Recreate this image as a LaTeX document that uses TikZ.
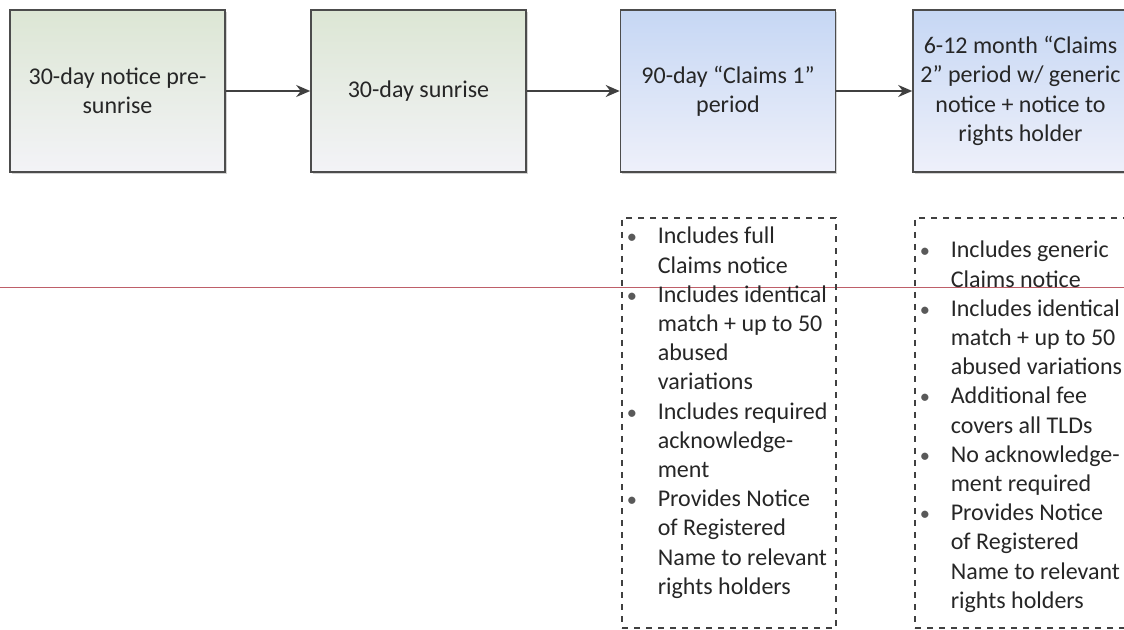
\documentclass[tikz,border=0pt]{standalone}
\usepackage{fontspec}
\usepackage{graphicx}
\setmainfont{Carlito}
\usetikzlibrary{arrows.meta, positioning, shadows}

\definecolor{sunrisetop}{RGB}{220,230,212}
\definecolor{sunrisebot}{RGB}{243,243,247}
\definecolor{claimstop}{RGB}{198,215,244}
\definecolor{claimsbot}{RGB}{238,240,250}
\definecolor{scanline}{RGB}{190,95,105}

\newcommand\dotmark{\textcolor{black!65}{\scalebox{0.85}{\textbullet}}}

\begin{document}
\begin{tikzpicture}[x=0.5pt, y=-0.5pt,
    phase/.style={draw=black!70, line width=0.8pt, minimum width=107.5pt,
        minimum height=81pt, inner sep=0pt, align=center, text=black!85,
        font=\fontsize{12}{14.6}\selectfont,
        drop shadow={shadow xshift=0.8pt, shadow yshift=-0.8pt, opacity=0.35}},
    greenphase/.style={phase, top color=sunrisetop, bottom color=sunrisebot},
    bluephase/.style={phase, top color=claimstop, bottom color=claimsbot},
    notes/.style={draw=black!75, dashed, line width=0.6pt, minimum width=107pt,
        minimum height=205pt, inner sep=0pt},
    notelist/.style={anchor=north west, inner sep=0pt, text=black!85,
        font=\fontsize{12}{14.6}\selectfont},
    flow/.style={-{Stealth[length=7pt, width=6pt]}, draw=black!75, line width=1pt}]

    \useasboundingbox (0,0) rectangle (1124,630);

    % scan line across the page
    \draw[scanline, line width=0.4pt] (0,287) -- (1124,287);

    % phases
    \node[greenphase] (pre) at (117.5,91) {30-day notice pre-\\sunrise};
    \node[greenphase] (sun) at (418.5,91) {30-day sunrise};
    \node[bluephase] (claimsA) at (728,91) {90-day “Claims 1”\\period};
    \node[bluephase] (claimsB) at (1020.5,91) {6-12 month “Claims\\2” period w/ generic\\notice + notice to\\rights holder};

    \draw[flow] (pre) -- (sun);
    \draw[flow] (sun) -- (claimsA);
    \draw[flow] (claimsA) -- (claimsB);

    % details
    \node[notes] (notesA) at (729,423) {};
    \node[notes] (notesB) at (1022,423) {};

    \node[notelist] (listA) at ([xshift=2.5pt, yshift=-2.8pt]notesA.north west) {%
        \begin{tabular}{@{}p{15.5pt}@{}l@{}}
        \dotmark & Includes full\\
                 & Claims notice\\
        \dotmark & Includes identical\\
                 & match + up to 50\\
                 & abused\\
                 & variations\\
        \dotmark & Includes required\\
                 & acknowledge-\\
                 & ment\\
        \dotmark & Provides Notice\\
                 & of Registered\\
                 & Name to relevant\\
                 & rights holders
        \end{tabular}};
    \node[notelist] (listB) at ([xshift=2.5pt, yshift=-9.8pt]notesB.north west) {%
        \begin{tabular}{@{}p{15.5pt}@{}l@{}}
        \dotmark & Includes generic\\
                 & Claims notice\\
        \dotmark & Includes identical\\
                 & match + up to 50\\
                 & abused variations\\
        \dotmark & Additional fee\\
                 & covers all TLDs\\
        \dotmark & No acknowledge-\\
                 & ment required\\
        \dotmark & Provides Notice\\
                 & of Registered\\
                 & Name to relevant\\
                 & rights holders
        \end{tabular}};
\end{tikzpicture}
\end{document}
